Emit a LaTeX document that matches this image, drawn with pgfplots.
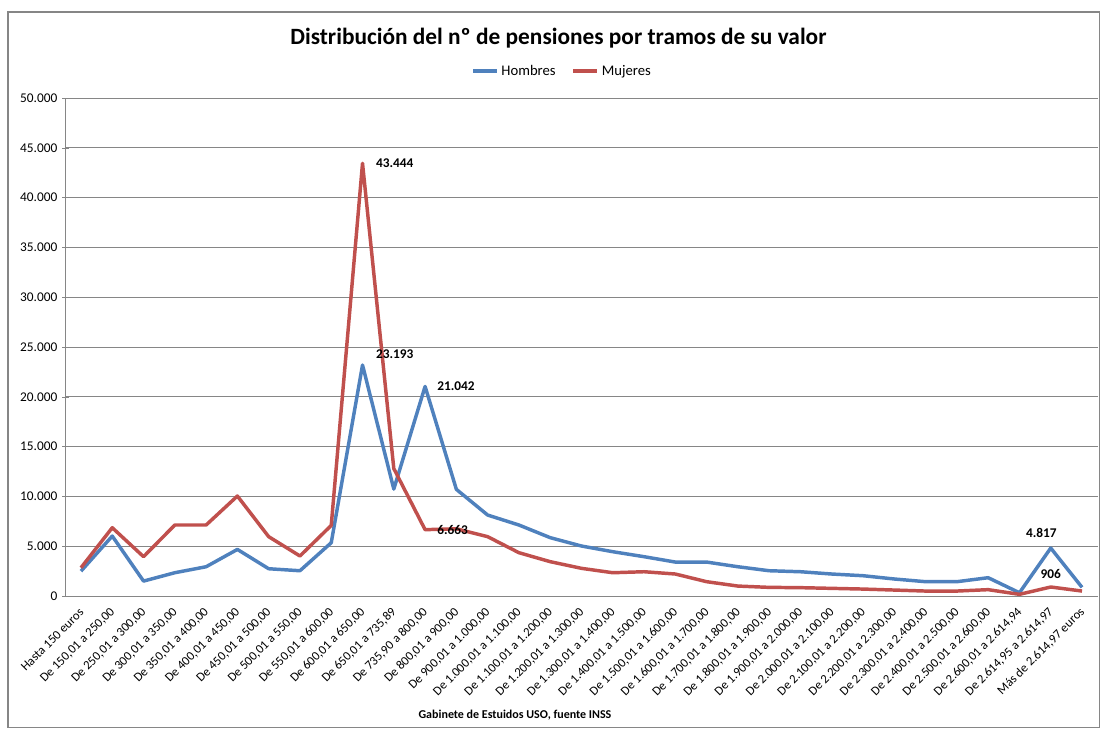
\documentclass[border=0pt]{standalone}
\usepackage{fontspec}
\setmainfont{Carlito}
\usepackage{pgfplots}
\usepackage{pgfplotstable}
\pgfplotsset{compat=1.18}

\definecolor{hblue}{HTML}{4F81BD}
\definecolor{mred}{HTML}{C0504D}
\definecolor{axgray}{HTML}{868686}

% tramo  hombres  mujeres
\pgfplotstableread{
x hombres mujeres
0 2500 2840
1 6020 6860
2 1500 3950
3 2340 7130
4 2940 7130
5 4680 10040
6 2740 5960
7 2540 4020
8 5350 7090
9 23193 43444
10 10740 12800
11 21042 6663
12 10710 6750
13 8130 5960
14 7130 4350
15 5860 3450
16 5020 2780
17 4450 2340
18 3950 2440
19 3410 2210
20 3410 1440
21 2940 1000
22 2540 870
23 2440 840
24 2210 770
25 2040 700
26 1710 600
27 1440 500
28 1440 500
29 1840 640
30 330 170
31 4817 906
32 870 500
}\pensiones

\begin{document}
\begin{tikzpicture}
\begin{axis}[
    scale only axis,
    width=774.2pt, height=373.5pt,
    xmin=-0.5, xmax=32.5,
    ymin=0, ymax=50000,
    axis lines=left,
    axis line style={axgray, -},
    ytick={0,5000,...,50000},
    scaled y ticks=false,
    /pgf/number format/.cd, 1000 sep={.}, assume math mode=true,
    /pgfplots/.cd,
    ymajorgrids=true,
    grid style={axgray, line width=0.6pt},
    major tick length=5pt,
    tick style={axgray},
    ytick pos=left,
    y tick label style={font=\fontsize{10}{12}\selectfont},
    xtick=data,
    x tick style={draw=none},
    xticklabels={Hasta 150 euros, {De 150,01 a 250,00}, {De 250,01 a 300,00}, {De 300,01 a 350,00}, {De 350,01 a 400,00}, {De 400,01 a 450,00}, {De 450,01 a 500,00}, {De 500,01 a 550,00}, {De 550,01 a 600,00}, {De 600,01 a 650,00}, {De 650,01 a 735,89}, {De 735,90 a 800,00}, {De 800,01 a 900,00}, {De 900,01 a 1.000,00}, {De 1.000,01 a 1.100,00}, {De 1.100,01 a 1.200,00}, {De 1.200,01 a 1.300,00}, {De 1.300,01 a 1.400,00}, {De 1.400,01 a 1.500,00}, {De 1.500,01 a 1.600,00}, {De 1.600,01 a 1.700,00}, {De 1.700,01 a 1.800,00}, {De 1.800,01 a 1.900,00}, {De 1.900,01 a 2.000,00}, {De 2.000,01 a 2.100,00}, {De 2.100,01 a 2.200,00}, {De 2.200,01 a 2.300,00}, {De 2.300,01 a 2.400,00}, {De 2.400,01 a 2.500,00}, {De 2.500,01 a 2.600,00}, {De 2.600,01 a 2.614,94}, {De 2.614,95 a 2.614,97}, {Más de 2.614,97 euros}},
    x tick label style={font=\fontsize{9.5}{11}\selectfont, rotate=45, anchor=east, yshift=-6pt, xshift=-2pt},
    legend columns=2,
    legend style={at={(0.4815,1.054)}, anchor=center, draw=none, fill=none,
        font=\fontsize{11}{13}\selectfont,
        /tikz/every even column/.append style={column sep=10pt}},
    legend image code/.code={\draw[#1] (0pt,0pt) -- (18pt,0pt);},
    clip=false,
]
\addplot[hblue, line width=2.6pt, line join=round, mark=none] table[x=x, y=hombres] {\pensiones};
\addlegendentry{Hombres}
\addplot[mred, line width=2.6pt, line join=round, mark=none] table[x=x, y=mujeres] {\pensiones};
\addlegendentry{Mujeres}

\begin{scope}[every node/.style={font=\bfseries\fontsize{10}{12}\selectfont, inner sep=1pt}]
\node[anchor=west] at ([xshift=9pt]axis cs:9,43444) {43.444};
\node[anchor=west] at ([xshift=9pt, yshift=8pt]axis cs:9,23193) {23.193};
\node[anchor=west] at ([xshift=8pt]axis cs:11,21042) {21.042};
\node[anchor=west] at ([xshift=8pt]axis cs:11,6663) {6.663};
\node[anchor=south] at ([xshift=-7pt, yshift=7pt]axis cs:31,4817) {4.817};
\node[anchor=south] at ([yshift=5pt]axis cs:31,906) {906};
\end{scope}
\end{axis}
\node[font=\bfseries\fontsize{17.5}{21}\selectfont] at (369.8pt,418.5pt) {Distribución del nº de pensiones por tramos de su valor};
\node[font=\bfseries\fontsize{9}{11}\selectfont] at (337.2pt,-89.25pt) {Gabinete de Estuidos USO, fuente INSS};
\draw[axgray, line width=0.8pt] (-43pt,-98.25pt) rectangle (775.9pt,438pt);
\pgfresetboundingbox
\path (-49pt,-99pt) rectangle (776.7pt,447pt);
\end{tikzpicture}
\end{document}
